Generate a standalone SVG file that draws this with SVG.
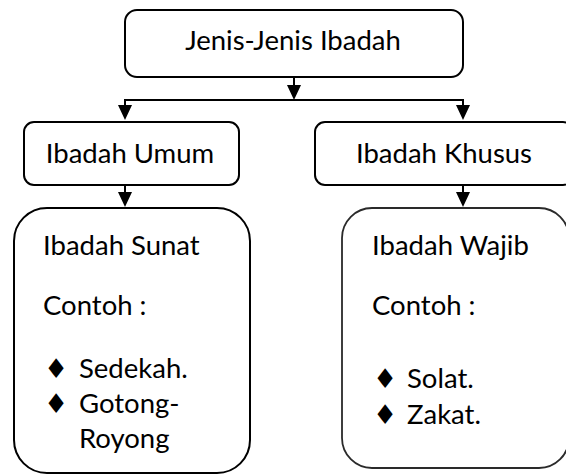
<svg xmlns="http://www.w3.org/2000/svg" width="566" height="475" viewBox="0 0 566 475">
  <defs>
    <style>
      .box { fill: #ffffff; stroke: #000000; stroke-width: 2; }
      .box2 { fill: #ffffff; stroke: #2a2a2a; stroke-width: 1.8; }
      .t { font-family: Lato, "Liberation Sans", sans-serif; font-size: 27.5px; fill: #000000; }
      .mid { text-anchor: middle; }
      .bul { font-family: "DejaVu Sans", sans-serif; font-size: 27px; fill: #000000; }
      .ln { fill: none; stroke: #000000; stroke-width: 2; }
      .ah { fill: #000000; stroke: none; }
    </style>
  </defs>
  <rect width="566" height="475" fill="#ffffff"/>

  <g id="connectors">
    <line class="ln" x1="294" y1="77" x2="294" y2="88"/>
    <polygon class="ah" points="287,85 301,85 294,100"/>
    <polyline class="ln" points="125,108 125,100 463,100 463,108"/>
    <polygon class="ah" points="118,105 132,105 125,120"/>
    <polygon class="ah" points="456,105 470,105 463,120"/>
    <line class="ln" x1="125" y1="185" x2="125" y2="195"/>
    <polygon class="ah" points="118,192 132,192 125,207"/>
    <line class="ln" x1="463" y1="185" x2="463" y2="195"/>
    <polygon class="ah" points="456,192 470,192 463,207"/>
  </g>

  <g id="node-jenis">
    <rect class="box" x="125" y="10" width="338" height="67" rx="12"/>
    <text class="t mid" x="293" y="50">Jenis-Jenis Ibadah</text>
  </g>

  <g id="node-umum">
    <rect class="box" x="24" y="122" width="215" height="63" rx="10"/>
    <text class="t mid" x="130" y="163">Ibadah Umum</text>
  </g>

  <g id="node-khusus">
    <rect class="box" x="315" y="122" width="258" height="63" rx="10"/>
    <text class="t mid" x="444" y="163">Ibadah Khusus</text>
  </g>

  <g id="node-sunat">
    <rect class="box" x="14" y="208" width="236" height="265" rx="33"/>
    <text class="t" x="43" y="255">Ibadah Sunat</text>
    <text class="t" x="43" y="315">Contoh :</text>
    <text class="bul" x="44" y="378">♦</text>
    <text class="t" x="79" y="378">Sedekah.</text>
    <text class="bul" x="44" y="413">♦</text>
    <text class="t" x="79" y="413">Gotong-</text>
    <text class="t" x="79" y="448">Royong</text>
  </g>

  <g id="node-wajib">
    <rect class="box2" x="342" y="208" width="227" height="260" rx="30"/>
    <text class="t" x="372" y="255">Ibadah Wajib</text>
    <text class="t" x="372" y="315">Contoh :</text>
    <text class="bul" x="373" y="388">♦</text>
    <text class="t" x="407" y="388">Solat.</text>
    <text class="bul" x="373" y="424">♦</text>
    <text class="t" x="407" y="424">Zakat.</text>
  </g>
</svg>
